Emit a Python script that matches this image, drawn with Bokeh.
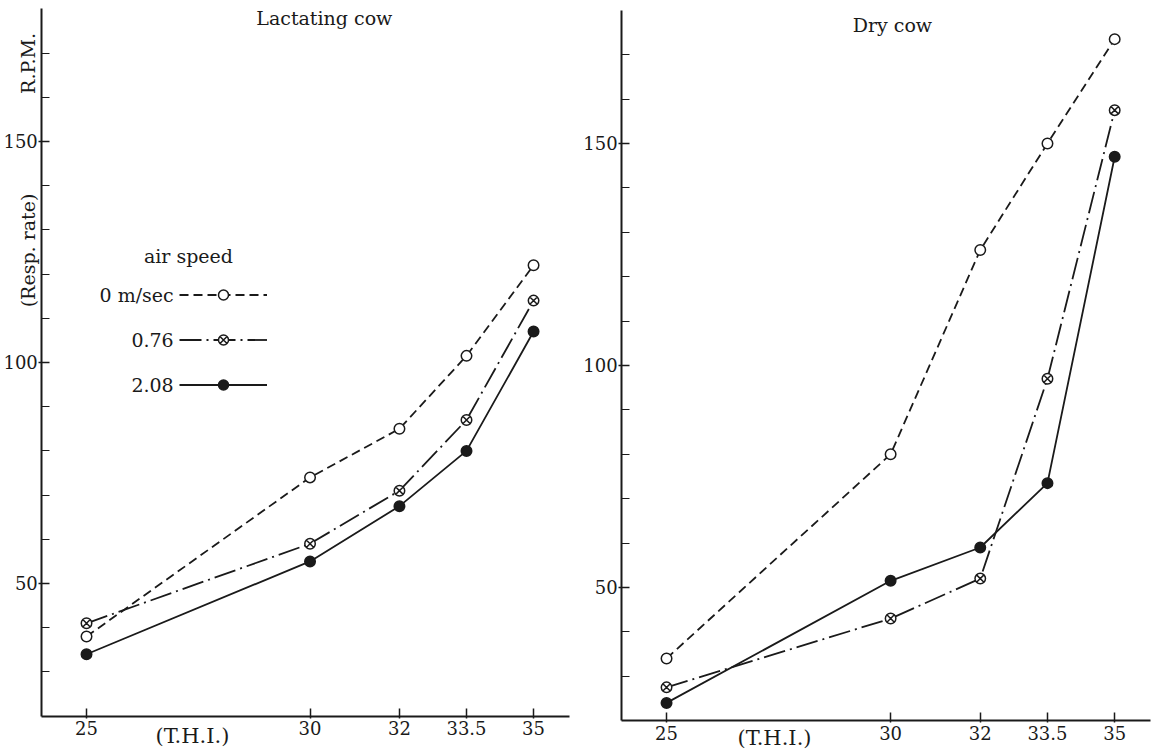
from bokeh.plotting import figure
from bokeh.layouts import row
from bokeh.models import FixedTicker, Label, Legend, LegendItem, LinearAxis, Range1d
from bokeh.embed import file_html
from bokeh.resources import INLINE

# ---------------- data ----------------
thi = [25, 30, 32, 33.5, 35]
thi_tick_labels = ["25", "30", "32", "33.5", "35"]
y_major = [50, 100, 150]
y_minor = [30, 40, 60, 70, 80, 90, 110, 120, 130, 140, 160, 170]

series_names = ["0 m/sec", "0.76", "2.08"]
lact_0 = [38, 74, 85, 101.5, 122]
lact_076 = [41, 59, 71, 87, 114]
lact_208 = [34, 55, 67.5, 80, 107]
dry_0 = [34, 80, 126, 150, 173.5]
dry_076 = [27.5, 43, 52, 97, 157.5]
dry_208 = [24, 51.5, 59, 73.5, 147]

INK = "#1a1a1a"
FONT = "DejaVu Serif"
H = 750
styles = [
    dict(dash="9 5", marker="circle", fill="white"),
    dict(dash="22 5 2 5", marker="circle_x", fill="white"),
    dict(dash="solid", marker="circle", fill=INK),
]


def make_fig(width, xr, yr):
    p = figure(width=width, height=H, x_range=Range1d(*xr), y_range=Range1d(*yr),
               output_backend="svg", toolbar_location=None,
               x_axis_location=None, y_axis_location=None, min_border=0)
    p.xgrid.visible = False
    p.ygrid.visible = False
    p.outline_line_color = None
    p.background_fill_color = "white"
    p.border_fill_color = "white"

    xa = LinearAxis(fixed_location=20, bounds=(24, 35.8))
    xa.ticker = FixedTicker(ticks=thi, minor_ticks=[])
    xa.major_label_overrides = {t: l for t, l in zip(thi, thi_tick_labels)}
    xa.axis_line_width = 2
    xa.axis_line_color = INK
    xa.major_tick_in = 8
    xa.major_tick_out = 2
    xa.major_tick_line_color = INK
    xa.major_tick_line_width = 1.5
    xa.minor_tick_line_color = None
    xa.major_label_standoff = 3
    xa.major_label_text_font = FONT
    xa.major_label_text_font_size = "18px"
    xa.major_label_text_color = INK
    p.add_layout(xa, "below")

    ya = LinearAxis(fixed_location=24, bounds=(20, 180))
    ya.ticker = FixedTicker(ticks=y_major, minor_ticks=y_minor)
    ya.axis_line_width = 2
    ya.axis_line_color = INK
    ya.major_tick_in = 8
    ya.major_tick_out = 3
    ya.major_tick_line_color = INK
    ya.major_tick_line_width = 1.5
    ya.minor_tick_in = 8
    ya.minor_tick_out = 0
    ya.minor_tick_line_color = INK
    ya.minor_tick_line_width = 1.2
    ya.major_label_standoff = 1
    ya.major_label_text_font = FONT
    ya.major_label_text_font_size = "18px"
    ya.major_label_text_color = INK
    p.add_layout(ya, "left")
    return p


def add_series(p, ys_list):
    rends = []
    for ys, st in zip(ys_list, styles):
        ln = p.line(thi, ys, line_color=INK, line_width=1.8, line_dash=st["dash"])
        rends.append([ln])
    for ys, st, r in zip(ys_list, styles, rends):
        sc = p.scatter(thi, ys, marker=st["marker"], size=10.5, line_color=INK,
                       line_width=1.5, fill_color=st["fill"])
        r.append(sc)
    return rends


def txt(p, x, y, text, size="19px", align="center", angle=0):
    p.add_layout(Label(x=x, y=y, text=text, text_font=FONT, text_font_size=size,
                       text_color=INK, text_align=align, text_baseline="middle",
                       angle=angle))


# ---------------- left: lactating cow ----------------
p1 = make_fig(580, (23.076, 36.05), (181.9 - H / 4.42, 181.9))
r1 = add_series(p1, [lact_0, lact_076, lact_208])
txt(p1, 30.32, 178.05, "Lactating cow")
txt(p1, 23.68, 167.65, "R.P.M.", angle=1.5708)
txt(p1, 23.68, 125.34, "(Resp. rate)", angle=1.5708)
txt(p1, 27.37, 15.61, "(T.H.I.)", size="21px")
txt(p1, 27.28, 124.2, "air speed")
for name, yy in zip(series_names, [115.16, 105.0, 95.02]):
    txt(p1, 26.95, yy, name, align="right")

legend = Legend(items=[LegendItem(label=" ", renderers=r) for r in r1],
                location=(179, H - 397), glyph_width=88, glyph_height=25,
                spacing=20, padding=0, margin=0, label_standoff=0,
                label_text_font_size="1px", label_width=1, label_height=1,
                background_fill_alpha=0, border_line_color=None)
p1.add_layout(legend, "center")

# ---------------- right: dry cow ----------------
p2 = make_fig(579, (23.08, 36.0), (182.2 - H / 4.44, 182.2))
add_series(p2, [dry_0, dry_076, dry_208])
txt(p2, 30.04, 176.57, "Dry cow")
txt(p2, 27.41, 16.2, "(T.H.I.)", size="21px")

layout = row(p1, p2)
open("out.html", "w").write(file_html(layout, INLINE))
